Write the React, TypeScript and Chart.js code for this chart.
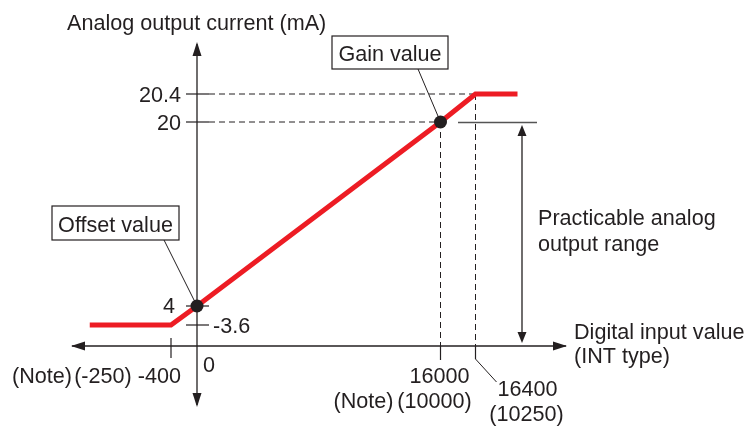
import React, { useEffect, useRef } from 'react';
import { Chart, registerables, LinearScale } from 'chart.js';

// ---- data ----
const lineX = [-1650, -400, 0, 16000, 16400, 16880];
const lineY = [3.6, 3.6, 4, 20, 20.4, 20.4];
const markX = [0, 16000];
const markY = [4, 20];
const yTickValues = [20.4, 20, 4, 3.6];
const yTickLabels = ['20.4', '20', '4', '-3.6'];
const xTickValues = [-400, 16000, 16400];
const xTickNotes = ['(-250)', '(10000)', '(10250)'];
const noteLabel = '(Note)';
const title = 'Analog output current (mA)';
const xAxisTitle = ['Digital input value', '(INT type)'];
const rangeLabel = ['Practicable analog', 'output range'];
const gainLabel = 'Gain value';
const offsetLabel = 'Offset value';

// schematic (not-to-scale) axis breakpoints
const xKnotValues = [-400, 0, 16000, 16400];
const xKnotFractions = [171 / 747, 197 / 747, 440.5 / 747, 475.5 / 747];
const yKnotValues = [0, 3.6, 4, 20, 20.4];
const yKnotFractions = [1 - 346 / 429, 1 - 325 / 429, 1 - 306 / 429, 1 - 122 / 429, 1 - 94 / 429];

class PiecewiseScale extends LinearScale {
  static id = 'piecewise';
  static defaults = LinearScale.defaults;
  knotDecimal(value: number): number {
    const kv: number[] = (this.options as any).knotValues;
    const kf: number[] = (this.options as any).knotFractions;
    let i = 0;
    if (value >= kv[kv.length - 1]) i = kv.length - 2;
    else if (value > kv[0]) {
      while (value > kv[i + 1]) i++;
    }
    return kf[i] + ((value - kv[i]) * (kf[i + 1] - kf[i])) / (kv[i + 1] - kv[i]);
  }
  getPixelForValue(value: number) {
    return this.getPixelForDecimal(this.knotDecimal(value));
  }
  getValueForPixel(pixel: number) {
    const d = this.getDecimalForPixel(pixel);
    const kv: number[] = (this.options as any).knotValues;
    const kf: number[] = (this.options as any).knotFractions;
    let i = 0;
    if (d >= kf[kf.length - 1]) i = kf.length - 2;
    else if (d > kf[0]) {
      while (d > kf[i + 1]) i++;
    }
    return kv[i] + ((d - kf[i]) * (kv[i + 1] - kv[i])) / (kf[i + 1] - kf[i]);
  }
}

Chart.register(...registerables, PiecewiseScale as any);

const INK = '#231f20';
const RED = '#ed1c24';
const FONT = '21.6px "Liberation Sans", Arial, sans-serif';

function arrowHead(ctx: CanvasRenderingContext2D, x: number, y: number, dir: string, len = 14, half = 4.5) {
  ctx.beginPath();
  ctx.moveTo(x, y);
  if (dir === 'up') { ctx.lineTo(x - half, y + len); ctx.lineTo(x + half, y + len); }
  if (dir === 'down') { ctx.lineTo(x - half, y - len); ctx.lineTo(x + half, y - len); }
  if (dir === 'left') { ctx.lineTo(x + len, y - half); ctx.lineTo(x + len, y + half); }
  if (dir === 'right') { ctx.lineTo(x - len, y - half); ctx.lineTo(x - len, y + half); }
  ctx.closePath();
  ctx.fill();
}

function seg(ctx: CanvasRenderingContext2D, x1: number, y1: number, x2: number, y2: number) {
  ctx.beginPath();
  ctx.moveTo(x1, y1);
  ctx.lineTo(x2, y2);
  ctx.stroke();
}

const diagramPlugin = {
  id: 'diagram',
  beforeDatasetsDraw(chart: any) {
    const ctx: CanvasRenderingContext2D = chart.ctx;
    const xs = chart.scales.x;
    const ys = chart.scales.y;
    const X = (v: number) => xs.getPixelForValue(v);
    const Y = (v: number) => ys.getPixelForValue(v);
    const ox = X(0);
    const oy = Y(0);
    ctx.save();
    ctx.strokeStyle = INK;
    ctx.fillStyle = INK;

    // dashed guides
    ctx.lineWidth = 1;
    ctx.setLineDash([6, 4]);
    seg(ctx, ox + 12, Y(20.4), X(16400), Y(20.4));
    seg(ctx, ox + 12, Y(20), X(16000), Y(20));
    seg(ctx, X(16000), Y(20), X(16000), oy);
    seg(ctx, X(16400), Y(20.4), X(16400), oy);
    ctx.setLineDash([]);

    // axes
    ctx.lineWidth = 1.3;
    seg(ctx, 72, oy, 566, oy);
    arrowHead(ctx, 71, oy, 'left');
    arrowHead(ctx, 567, oy, 'right');
    seg(ctx, ox, 44, ox, 405);
    arrowHead(ctx, ox, 42, 'up');
    arrowHead(ctx, ox, 407, 'down');

    // y ticks
    ctx.lineWidth = 1.2;
    yTickValues.forEach((v) => seg(ctx, ox - 11, Y(v), ox + 12, Y(v)));
    // x ticks
    seg(ctx, X(-400), oy - 8, X(-400), oy + 12);
    seg(ctx, X(16000), oy, X(16000), oy + 14);
    seg(ctx, X(16400), oy, X(16400), oy + 13);
    ctx.lineWidth = 1;
    seg(ctx, X(16400), oy + 13, X(16400) + 21, oy + 36);

    // practicable range
    ctx.strokeStyle = '#555';
    ctx.lineWidth = 1.5;
    seg(ctx, 458, Y(20) + 0.5, 537, Y(20) + 0.5);
    ctx.strokeStyle = INK;
    ctx.lineWidth = 1.3;
    seg(ctx, 522, Y(20) + 12, 522, oy - 14);
    arrowHead(ctx, 522, Y(20) + 3, 'up', 11, 4.5);
    arrowHead(ctx, 522, oy - 3, 'down', 11, 4.5);

    // leader lines
    ctx.lineWidth = 1;
    seg(ctx, 418, 69, X(16000), Y(20));
    seg(ctx, 164, 240, X(0), Y(4));

    // boxes
    ctx.lineWidth = 1.2;
    ctx.strokeRect(332, 36, 116, 33);
    ctx.strokeRect(52, 206, 127, 34);

    // texts
    ctx.font = FONT;
    ctx.textBaseline = 'alphabetic';
    ctx.textAlign = 'left';
    ctx.fillText(title, 67, 29.5);
    ctx.textAlign = 'center';
    ctx.fillText(gainLabel, 390, 61);
    ctx.fillText(offsetLabel, 115.5, 231.5);
    ctx.textAlign = 'right';
    ctx.fillText(yTickLabels[0], ox - 16, Y(20.4) + 7.5);
    ctx.fillText(yTickLabels[1], ox - 16, Y(20) + 7.5);
    ctx.fillText(yTickLabels[2], ox - 22, Y(4) + 7);
    ctx.textAlign = 'left';
    ctx.fillText(yTickLabels[3], ox + 16, Y(3.6) + 7.5);
    ctx.fillText('0', ox + 6, oy + 26);
    ctx.textAlign = 'right';
    ctx.fillText(xTickNotes[0] + ' ' + String(xTickValues[0]), X(-400) + 10, oy + 37);
    ctx.fillText(noteLabel, 72, oy + 37);
    ctx.textAlign = 'center';
    ctx.fillText(String(xTickValues[1]), X(16000) - 1, oy + 37);
    ctx.fillText(xTickNotes[1], X(16000) - 6, oy + 62);
    ctx.textAlign = 'right';
    ctx.fillText(noteLabel, X(16000) - 47, oy + 62);
    ctx.textAlign = 'center';
    ctx.fillText(String(xTickValues[2]), X(16400) + 52, oy + 50);
    ctx.fillText(xTickNotes[2], X(16400) + 51, oy + 75);
    ctx.textAlign = 'left';
    ctx.fillText(xAxisTitle[0], 574, oy - 7);
    ctx.fillText(xAxisTitle[1], 574, oy + 17);
    ctx.fillText(rangeLabel[0], 538, 225);
    ctx.fillText(rangeLabel[1], 538, 251);
    ctx.restore();
  },
};

export default function App() {
  const ref = useRef<HTMLCanvasElement | null>(null);
  useEffect(() => {
    if (!ref.current) return;
    const chart = new Chart(ref.current, {
      type: 'line',
      data: {
        datasets: [
          {
            data: lineX.map((x, i) => ({ x, y: lineY[i] })),
            borderColor: RED,
            borderWidth: 5,
            pointRadius: 0,
            tension: 0,
            borderJoinStyle: 'miter',
            order: 2,
          },
          {
            data: markX.map((x, i) => ({ x, y: markY[i] })),
            showLine: false,
            pointRadius: 6.5,
            pointBackgroundColor: INK,
            pointBorderColor: INK,
            pointBorderWidth: 0,
            order: 1,
          },
        ],
      },
      options: {
        responsive: false,
        animation: false,
        layout: { padding: 0, autoPadding: false },
        events: [],
        plugins: { legend: { display: false }, tooltip: { enabled: false }, title: { display: false } },
        scales: {
          x: { type: 'piecewise' as any, display: false, knotValues: xKnotValues, knotFractions: xKnotFractions } as any,
          y: { type: 'piecewise' as any, display: false, knotValues: yKnotValues, knotFractions: yKnotFractions } as any,
        },
      },
      plugins: [diagramPlugin],
    });
    return () => chart.destroy();
  }, []);
  return (
    <div style={{ position: 'absolute', left: 0, top: 0, width: 747, height: 429, background: '#fff' }}>
      <canvas ref={ref} width={747} height={429} style={{ display: 'block' }} />
    </div>
  );
}
